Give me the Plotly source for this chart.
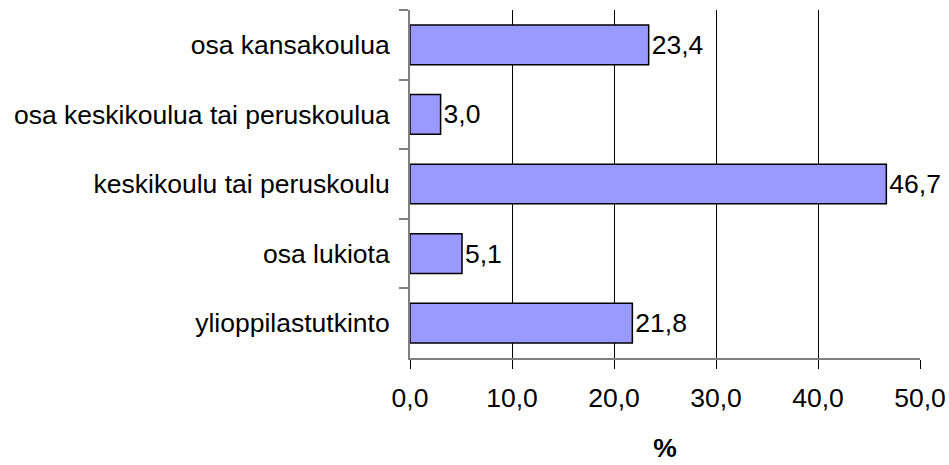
import plotly.graph_objects as go

categories = ["osa kansakoulua", "osa keskikoulua tai peruskoulua",
              "keskikoulu tai peruskoulu", "osa lukiota", "ylioppilastutkinto"]
values = [23.4, 3.0, 46.7, 5.1, 21.8]
x_ticks = [0, 10, 20, 30, 40, 50]
x_title = "%"

FONT = "Liberation Sans, Arial, sans-serif"
FS = 26.5

fig = go.Figure(go.Bar(
    y=categories, x=values, orientation="h",
    marker=dict(color="#9999FF", line=dict(color="black", width=1.5)),
    texttemplate="%{x:.1f}", textposition="outside",
    textfont=dict(family=FONT, size=FS, color="black"),
    cliponaxis=False, constraintext="none",
))

fig.update_layout(
    width=949, height=465,
    margin=dict(l=410, r=29, t=10, b=107),
    paper_bgcolor="white", plot_bgcolor="white",
    separators=", ",
    bargap=0.43,
    showlegend=False,
    font=dict(family=FONT, size=FS, color="black"),
)
fig.update_xaxes(
    range=[0, 50], tickvals=x_ticks, tickformat=".1f",
    showgrid=True, gridcolor="black", gridwidth=1,
    showline=True, linecolor="#808080", linewidth=2,
    ticks="outside", ticklen=9, tickcolor="black", tickwidth=1,
    zeroline=False, automargin=False,
    title=dict(text="<b>" + x_title + "</b>", font=dict(size=FS), standoff=27),
    ticklabelstandoff=6,
)
fig.update_yaxes(
    autorange="reversed", showgrid=False, automargin=False,
    showline=True, linecolor="#808080", linewidth=2,
    ticks="outside", ticklen=9, tickcolor="#808080", tickwidth=2,
    tickson="boundaries", ticklabelstandoff=13,
)

fig.write_html(
    "out.html",
    config={"displayModeBar": False},
    post_script="document.body.style.margin='0';document.body.style.overflow='hidden';",
)
